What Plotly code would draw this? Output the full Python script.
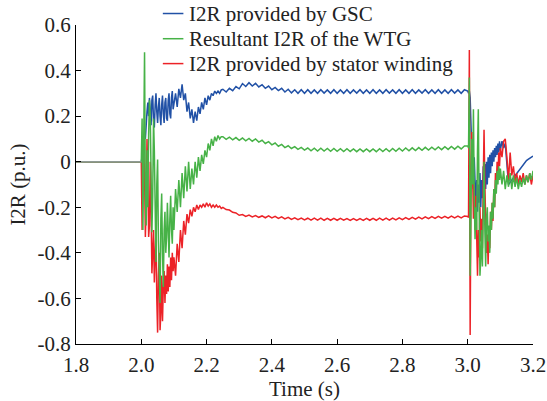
import plotly.graph_objects as go

# ---------------- sampling grid (time, s) ----------------
def grid(start, step, n):
    return [round(start + i * step, 4) for i in range(n)]

TIME_PRE = [1.80, 1.90]
TIME_B1 = grid(2.0, 0.0025, 40)
TIME_B2 = grid(2.1, 0.005, 30)
TIME_C = grid(2.25, 0.01, 75)
TIME_D = grid(3.0, 0.0025, 40)
TIME_E = grid(3.1, 0.005, 21)
TIME = TIME_PRE + TIME_B1 + TIME_B2 + TIME_C + TIME_D + TIME_E

PRE = [0.0, 0.0]

# ---------------- I2R provided by GSC (blue) ----------------
GSC_B1 = [0.00, 0.02, 0.08, 0.05, 0.12, 0.10, 0.18, 0.22, 0.26, 0.20,
          0.28, 0.22, 0.16, 0.27, 0.29, 0.18, 0.15, 0.25, 0.30, 0.22,
          0.17, 0.24, 0.28, 0.20, 0.16, 0.25, 0.29, 0.21, 0.17, 0.26,
          0.28, 0.19, 0.18, 0.27, 0.30, 0.21, 0.19, 0.28, 0.31, 0.23]
GSC_B2 = [0.25, 0.30, 0.24, 0.32, 0.28, 0.34, 0.27, 0.30, 0.22, 0.26,
          0.19, 0.23, 0.17, 0.22, 0.18, 0.24, 0.21, 0.26, 0.23, 0.28,
          0.25, 0.29, 0.27, 0.30, 0.29, 0.31, 0.30, 0.31, 0.30, 0.315]
GSC_C = [0.318, 0.306, 0.322, 0.312, 0.330, 0.320, 0.343, 0.330, 0.347, 0.332,
         0.344, 0.328, 0.338, 0.322, 0.332, 0.316, 0.326, 0.312, 0.322, 0.306,
         0.318, 0.302, 0.316, 0.300, 0.316, 0.300,
         0.316, 0.300, 0.315, 0.300, 0.316, 0.301, 0.315, 0.300, 0.316, 0.300,
         0.315, 0.300, 0.316, 0.300, 0.315, 0.301, 0.316, 0.300, 0.315, 0.300,
         0.316, 0.300, 0.315, 0.300, 0.316, 0.301, 0.315, 0.300, 0.316, 0.300,
         0.315, 0.300, 0.316, 0.300, 0.315, 0.301, 0.316, 0.300, 0.315, 0.300,
         0.316, 0.300, 0.315, 0.300, 0.316, 0.301, 0.315, 0.300, 0.316]
GSC_D = [0.31, 0.30, 0.31, 0.28, 0.20, 0.05, -0.05, -0.12, 0.02, -0.15,
         -0.20, -0.08, -0.22, -0.10, -0.18, -0.05, -0.20, -0.08, -0.16, -0.02,
         -0.14, -0.01, -0.12, 0.00, -0.10, 0.02, -0.07, 0.03, -0.05, 0.04,
         -0.02, 0.05, 0.00, 0.06, 0.02, 0.07, 0.03, 0.08, 0.04, 0.09]
GSC_E = [0.05, 0.09, 0.06, 0.08, -0.02, -0.10, -0.09, -0.08, -0.07, -0.06,
         -0.05, -0.04, -0.03, -0.02, -0.01, 0.00, 0.005, 0.01, 0.015, 0.02,
         0.025]

# ---------------- Resultant I2R of the WTG (green) ----------------
WTG_B1 = [0.00, 0.19, -0.30, 0.10, 0.48, -0.15, -0.28, 0.05, -0.20, 0.12,
          0.27, 0.20, -0.10, -0.31, -0.15, 0.19, 0.05, -0.30, -0.44, -0.10,
          0.01, -0.35, -0.52, -0.62, -0.25, -0.14, -0.40, -0.55, -0.30, -0.22,
          -0.40, -0.33, -0.18, -0.28, -0.42, -0.25, -0.15, -0.30, -0.36, -0.20]
WTG_B2 = [-0.30, -0.12, -0.22, -0.08, -0.20, -0.05, -0.16, -0.02, -0.13, 0.00,
          -0.12, -0.03, -0.10, 0.00, -0.07, 0.02, -0.04, 0.03, -0.01, 0.05,
          0.02, 0.08, 0.05, 0.10, 0.07, 0.11, 0.09, 0.115, 0.10, 0.11]
WTG_C = [0.110, 0.098, 0.108, 0.096, 0.106, 0.094, 0.104, 0.092, 0.102, 0.090,
         0.100, 0.086, 0.094, 0.080, 0.088, 0.074, 0.082, 0.068, 0.076, 0.062,
         0.070, 0.058, 0.066, 0.054, 0.063, 0.051,
         0.060, 0.048, 0.059, 0.047, 0.059, 0.047, 0.058, 0.046, 0.058, 0.046,
         0.057, 0.045, 0.057, 0.045, 0.056, 0.044, 0.056, 0.044, 0.056, 0.044,
         0.056, 0.044, 0.057, 0.045, 0.057, 0.045, 0.058, 0.046, 0.059, 0.047,
         0.060, 0.048, 0.061, 0.049, 0.062, 0.050, 0.063, 0.051, 0.064, 0.052,
         0.065, 0.053, 0.066, 0.054, 0.067, 0.055, 0.068, 0.056, 0.069]
WTG_D = [0.07, 0.06, 0.37, -0.50, -0.20, 0.10, -0.10, 0.23, -0.15, -0.34,
         -0.20, -0.30, 0.05, 0.23, -0.20, -0.50, -0.42, -0.30, -0.46, -0.10,
         0.00, -0.30, -0.46, -0.25, -0.20, -0.35, -0.28, -0.40, -0.22, -0.30,
         -0.18, -0.25, -0.12, -0.20, -0.08, -0.14, -0.04, -0.10, -0.02, -0.08]
WTG_E = [-0.03, -0.10, -0.04, -0.12, -0.06, -0.11, -0.05, -0.12, -0.06, -0.11,
         -0.07, -0.12, -0.08, -0.11, -0.07, -0.10, -0.06, -0.09, -0.05, -0.08,
         -0.04]

# ---------------- I2R provided by stator winding (red) ----------------
STA_B1 = [0.00, -0.30, -0.10, 0.05, -0.05, -0.33, -0.20, 0.10, -0.05, -0.33,
          -0.28, 0.00, -0.20, -0.49, -0.40, -0.30, -0.53, -0.45, -0.30, -0.60,
          -0.75, -0.50, -0.40, -0.74, -0.66, -0.50, -0.70, -0.55, -0.48, -0.62,
          -0.50, -0.58, -0.45, -0.57, -0.46, -0.55, -0.42, -0.52, -0.40, -0.48]
STA_B2 = [-0.42, -0.50, -0.36, -0.44, -0.30, -0.38, -0.26, -0.32, -0.23, -0.27,
          -0.21, -0.24, -0.20, -0.22, -0.19, -0.21, -0.19, -0.20, -0.185, -0.20,
          -0.18, -0.195, -0.185, -0.20, -0.19, -0.20, -0.19, -0.20, -0.195, -0.205]
STA_C = [-0.200, -0.210, -0.212, -0.222, -0.225, -0.235, -0.232, -0.240, -0.234, -0.242,
         -0.236, -0.244, -0.238, -0.246, -0.238, -0.247, -0.240, -0.249, -0.242, -0.251,
         -0.244, -0.253, -0.246, -0.254, -0.247, -0.255,
         -0.248, -0.256, -0.248, -0.256, -0.248, -0.257, -0.249, -0.257, -0.249, -0.257,
         -0.249, -0.257, -0.250, -0.258, -0.250, -0.258, -0.250, -0.258, -0.249, -0.257,
         -0.249, -0.257, -0.248, -0.256, -0.248, -0.256, -0.247, -0.255, -0.246, -0.254,
         -0.245, -0.253, -0.244, -0.252, -0.243, -0.251, -0.242, -0.250, -0.241, -0.249,
         -0.240, -0.248, -0.240, -0.248, -0.239, -0.247, -0.239, -0.247, -0.238]
STA_D = [-0.24, -0.245, 0.49, -0.76, -0.10, 0.13, -0.05, -0.25, -0.10, -0.30,
         -0.15, -0.38, -0.50, -0.30, -0.42, -0.20, -0.35, -0.25, -0.38, -0.10,
         0.14, -0.10, -0.30, -0.40, -0.32, -0.45, -0.30, -0.38, -0.22, -0.30,
         -0.18, -0.26, -0.12, -0.20, -0.05, -0.12, 0.00, -0.08, 0.04, -0.02]
STA_E = [0.06, 0.02, 0.09, 0.10, 0.02, -0.08, 0.04, -0.06, -0.02, -0.09,
         -0.05, -0.10, -0.06, -0.09, -0.05, -0.10, -0.06, -0.09, -0.05, -0.10,
         -0.06]

GSC = PRE + GSC_B1 + GSC_B2 + GSC_C + GSC_D + GSC_E
WTG = PRE + WTG_B1 + WTG_B2 + WTG_C + WTG_D + WTG_E
STA = PRE + STA_B1 + STA_B2 + STA_C + STA_D + STA_E
for s in (GSC, WTG, STA):
    assert len(s) == len(TIME), (len(s), len(TIME))

NAMES = ["I2R provided by GSC", "Resultant I2R of the WTG", "I2R provided by stator winding"]
X_TICKS = [1.8, 2.0, 2.2, 2.4, 2.6, 2.8, 3.0, 3.2]
X_TICK_TEXT = ["1.8", "2.0", "2.2", "2.4", "2.6", "2.8", "3.0", "3.2"]
Y_TICKS = [0.6, 0.4, 0.2, 0.0, -0.2, -0.4, -0.6, -0.8]
Y_TICK_TEXT = ["0.6", "0.4", "0.2", "0", "-0.2", "-0.4", "-0.6", "-0.8"]

BLUE = "#2151a6"
GREEN = "#47b247"
RED = "#ec2227"
COLORS = [BLUE, GREEN, RED]
FONT = "Liberation Serif, Times New Roman, serif"
FS = 21
TXT = "#222222"

fig = go.Figure()
fig.add_trace(go.Scatter(x=TIME, y=GSC, mode="lines", name=NAMES[0],
                         line=dict(color=BLUE, width=1.5)))
fig.add_trace(go.Scatter(x=TIME, y=STA, mode="lines", name=NAMES[2],
                         line=dict(color=RED, width=1.5)))
fig.add_trace(go.Scatter(x=TIME, y=WTG, mode="lines", name=NAMES[1],
                         line=dict(color=GREEN, width=1.5)))
# pre-fault part where the three curves coincide (blended colour)
fig.add_trace(go.Scatter(x=TIME_PRE + TIME_B1[:1], y=PRE + WTG_B1[:1], mode="lines",
                         line=dict(color="#8f9a94", width=1.5), showlegend=False,
                         hoverinfo="skip"))

# legend drawn above the plot area (line sample + label per series)
LEG_ROWS_Y = [1.036, 0.957, 0.879]
for name, col, yy in zip(NAMES, COLORS, LEG_ROWS_Y):
    fig.add_shape(type="line", xref="paper", yref="paper", x0=0.190, x1=0.235,
                  y0=yy, y1=yy, line=dict(color=col, width=1.5))
    fig.add_annotation(xref="paper", yref="paper", x=0.246, y=yy, text=name,
                       showarrow=False, xanchor="left", yanchor="middle",
                       font=dict(family=FONT, size=FS, color=TXT), borderpad=0)

axis_common = dict(showline=True, linecolor="black", linewidth=1, ticks="inside",
                   ticklen=5, tickcolor="black", showgrid=False, zeroline=False,
                   mirror=False, tickfont=dict(family=FONT, size=FS, color=TXT))

fig.update_layout(
    width=547, height=401,
    margin=dict(l=76, r=14, t=25, b=57),
    paper_bgcolor="white", plot_bgcolor="white",
    font=dict(family=FONT, size=FS, color=TXT),
    showlegend=False,
    xaxis=dict(range=[1.8, 3.2], tickvals=X_TICKS, ticktext=X_TICK_TEXT,
               ticklabelstandoff=2,
               title=dict(text="Time (s)", standoff=2,
                          font=dict(family=FONT, size=FS, color=TXT)),
               **axis_common),
    yaxis=dict(range=[-0.8, 0.6], tickvals=Y_TICKS, ticktext=Y_TICK_TEXT,
               ticklabelstandoff=0,
               title=dict(text="I2R (p.u.)", standoff=6,
                          font=dict(family=FONT, size=FS, color=TXT)),
               **axis_common),
)
fig.update_xaxes(automargin=False)
fig.update_yaxes(automargin=False)

fig.write_html("out.html")
